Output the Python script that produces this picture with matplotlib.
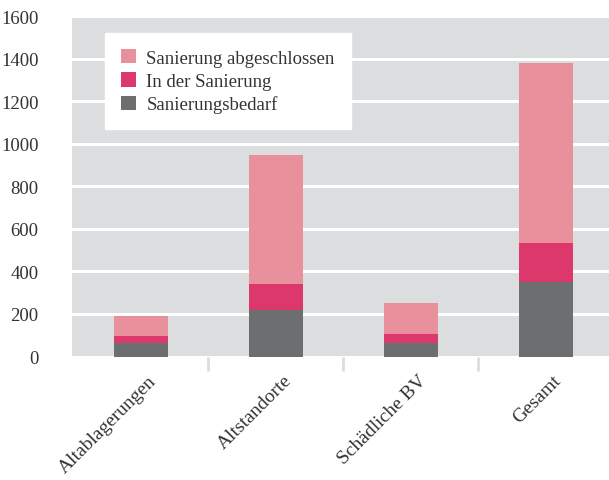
import matplotlib
matplotlib.use("Agg")
import matplotlib.pyplot as plt
import matplotlib.transforms as mtransforms
import numpy as np

categories = ["Altablagerungen", "Altstandorte", "Schädliche BV", "Gesamt"]
bedarf = [65, 218, 65, 350]          # Sanierungsbedarf
in_sanierung = [30, 122, 40, 185]    # In der Sanierung
abgeschlossen = [93, 608, 146, 842]  # Sanierung abgeschlossen
y_ticks = [0, 200, 400, 600, 800, 1000, 1200, 1400, 1600]

c_pink = "#E8919D"
c_red = "#DC386B"
c_gray = "#6D6E70"
c_bg = "#DCDDDF"

plt.rcParams["font.family"] = ["Liberation Serif", "DejaVu Serif"]

fig = plt.figure(figsize=(6.09, 4.81), dpi=100)
ax = fig.add_axes([72 / 609, 1 - 357.5 / 481, 1 - 72 / 609, (357.5 - 17) / 481])
ax.set_facecolor(c_bg)

x = np.arange(len(categories))
w = 0.4
b1 = np.array(bedarf)
b2 = b1 + np.array(in_sanierung)
h_gray = ax.bar(x, bedarf, w, color=c_gray, label="Sanierungsbedarf", zorder=3)
h_red = ax.bar(x, in_sanierung, w, bottom=b1, color=c_red, label="In der Sanierung", zorder=3)
h_pink = ax.bar(x, abgeschlossen, w, bottom=b2, color=c_pink, label="Sanierung abgeschlossen", zorder=3)

ax.set_ylim(0, 1600)
ax.set_xlim(-0.51, 3.47)
ax.set_yticks(y_ticks)
ax.set_yticklabels([str(v) for v in y_ticks], fontsize=13.5, color="#333333")
ax.yaxis.grid(True, color="white", linewidth=2.2, zorder=1)
ax.set_axisbelow(True)
ax.tick_params(axis="y", length=0, pad=24)

ax.set_xticks(x)
ax.set_xticklabels(categories, rotation=45, ha="right", va="top",
                   rotation_mode="anchor", fontsize=14, color="#333333")
ax.tick_params(axis="x", length=0, pad=11)
shift = mtransforms.ScaledTranslation(7 / 100, 0, fig.dpi_scale_trans)
for lab in ax.get_xticklabels():
    lab.set_transform(lab.get_transform() + shift)
ax.set_xticks([0.5, 1.5, 2.5], minor=True)
ax.tick_params(axis="x", which="minor", length=10, width=2, color=c_bg, direction="out")

for s in ax.spines.values():
    s.set_visible(False)

leg = ax.legend(handles=[h_pink, h_red, h_gray], loc="upper left",
                bbox_to_anchor=((105 - 72) / 537, (357.5 - 34) / 340.5),
                fontsize=13.5, frameon=True, fancybox=False, framealpha=1,
                edgecolor="white", facecolor="white", handlelength=0.8,
                handleheight=0.8, handletextpad=0.55, labelspacing=0.3,
                borderpad=0.85, borderaxespad=0)
for t in leg.get_texts():
    t.set_color("#333333")

fig.savefig("out.png", dpi=100)
